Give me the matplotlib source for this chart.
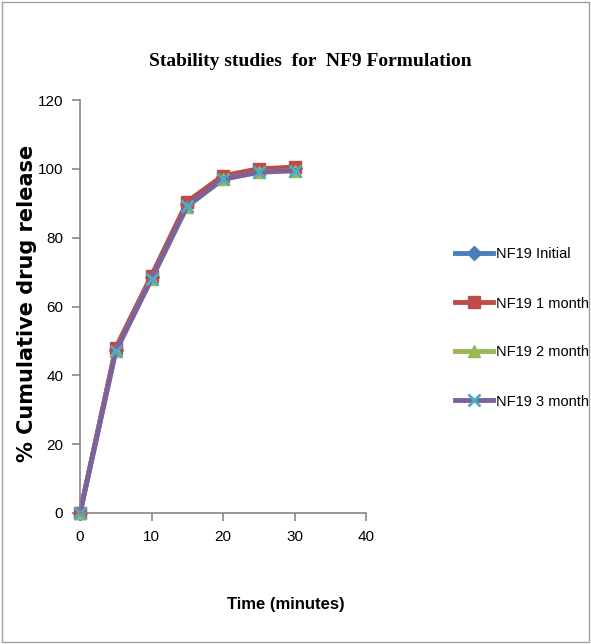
import matplotlib
matplotlib.use("Agg")
import matplotlib.pyplot as plt
from matplotlib.patches import Rectangle

time_min = [0, 5, 10, 15, 20, 25, 30]
initial = [0, 47.5, 68.5, 89.8, 97.5, 99.5, 100.2]
month1 = [0, 48.0, 69.0, 90.5, 98.0, 100.0, 100.5]
month2 = [0, 47.0, 68.0, 89.0, 97.0, 99.0, 99.5]
month3 = [0, 47.0, 68.0, 89.3, 97.0, 99.0, 99.5]
labels = ["NF19 Initial", "NF19 1 month", "NF19 2 month", "NF19 3 month"]

sans = "Liberation Sans"

fig = plt.figure(figsize=(5.91, 6.44), dpi=100)
ax = fig.add_axes([80/591, 1-513/644, (366-80)/591, (513-100)/644])

series = [
    (initial, "#4A7EBB", "D", 7),
    (month1, "#BE4B48", "s", 9),
    (month2, "#98B954", "^", 9),
    (month3, "#7D60A0", "x", 9),
]
for (vals, col, mk, ms), lab in zip(series, labels):
    kw = dict(markeredgewidth=2, markeredgecolor="#4BACC6") if mk == "x" else dict(markeredgecolor=col)
    ax.plot(time_min, vals, color=col, marker=mk, markersize=ms, linewidth=3.5,
            markerfacecolor=col, label=lab, clip_on=False, **kw)

ax.set_xlim(0, 40)
ax.set_ylim(0, 120)
ax.set_xticks([0, 10, 20, 30, 40])
ax.set_yticks([0, 20, 40, 60, 80, 100, 120])
for s in ["top", "right"]:
    ax.spines[s].set_visible(False)
for s in ["left", "bottom"]:
    ax.spines[s].set_color("#868686")
    ax.spines[s].set_linewidth(1.2)
ax.tick_params(axis="both", direction="out", color="#868686", width=1.2, length=6,
               labelsize=11, pad=6)
for t in ax.get_xticklabels() + ax.get_yticklabels():
    t.set_family(sans)

fig.text(286/591, 1-605/644, "Time (minutes)", ha="center", va="center",
         fontsize=12, fontweight="bold", family=sans)
fig.text(27/591, 1-303/644, "% Cumulative drug release", ha="center", va="center",
         rotation=90, fontsize=15, fontweight="bold", family="DejaVu Sans")

fig.text(310/591, 1-62/644, "Stability studies  for  NF9 Formulation",
         ha="center", va="center", fontsize=14, fontweight="bold",
         family="Liberation Serif")

handles, labs = ax.get_legend_handles_labels()
fig.legend(handles, labs, loc="center left", bbox_to_anchor=(455/591, 1-328/644),
           frameon=False, prop={"family": sans, "size": 10.5}, labelspacing=2.4,
           handlelength=2.6, handletextpad=0.2, borderpad=0, borderaxespad=0)

fig.patches.append(Rectangle((0.003, 0.003), 0.994, 0.994, transform=fig.transFigure,
                             fill=False, edgecolor="#A0A0A0", linewidth=1))

fig.savefig("out.png", dpi=100)
